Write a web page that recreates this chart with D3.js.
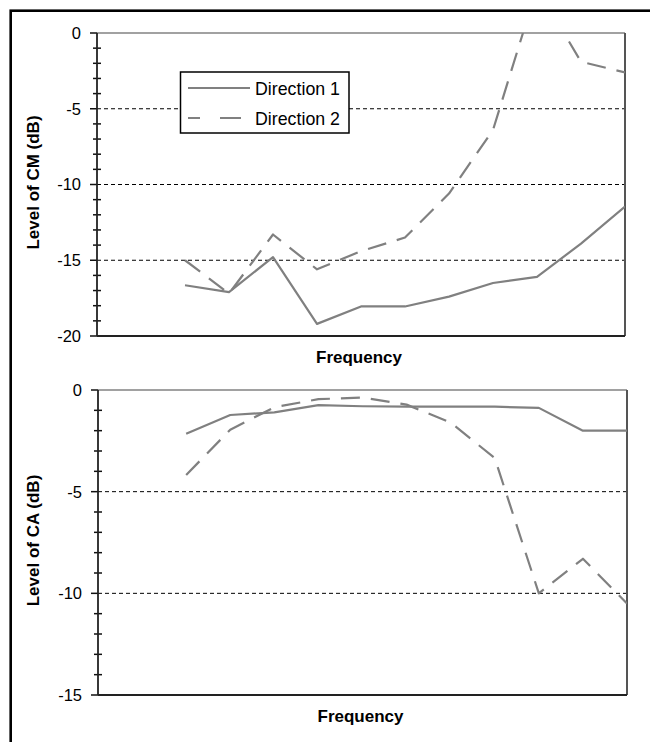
<!DOCTYPE html>
<html>
<head>
<meta charset="utf-8">
<script src="https://cdn.jsdelivr.net/npm/d3@7/dist/d3.min.js"></script>
<style>
  html, body { margin: 0; padding: 0; background: #fff; }
  svg { display: block; font-family: "Liberation Sans", Arial, sans-serif; }
</style>
</head>
<body>
<svg id="chart" width="650" height="742"></svg>
<script>
// ---- data ----
const categories = ["1","2","3","4","5","6","7","8","9","10","11","12","13"];
const seriesNames = ["Direction 1", "Direction 2"];
const cmDirection1 = [null, null, -16.65, -17.1, -14.8, -19.2, -18.05, -18.05, -17.4, -16.5, -16.1, -13.9, -11.45];
const cmDirection2 = [null, null, -15.0, -17.2, -13.3, -15.6, -14.4, -13.5, -10.6, -6.4, 3.0, -1.9, -2.6];
const caDirection1 = [null, null, -2.15, -1.23, -1.1, -0.74, -0.8, -0.82, -0.82, -0.82, -0.88, -2.0, -2.0];
const caDirection2 = [null, null, -4.18, -1.95, -0.85, -0.45, -0.37, -0.72, -1.6, -3.35, -10.0, -8.3, -10.5];
const cmTicks = [0, -5, -10, -15, -20];
const caTicks = [0, -5, -10, -15];
const cmGrid = [-5, -10, -15];
const caGrid = [-5, -10];

const svg = d3.select("#chart");

// outer frame
svg.append("rect").attr("x", 10.7).attr("y", 10.7).attr("width", 660).attr("height", 760)
  .attr("fill", "none").attr("stroke", "#000").attr("stroke-width", 2.6);

function panel(cfg) {
  const {left, right, top, bottom, yMin, ticks, grid, s1, s2, yTitle, id, legend} = cfg;
  const x = d3.scalePoint().domain(categories).range([left, right]);
  const y = d3.scaleLinear().domain([yMin, 0]).range([bottom, top]);
  const g = svg.append("g");

  // clip
  svg.append("clipPath").attr("id", id).append("rect")
    .attr("x", left).attr("y", top).attr("width", right - left).attr("height", bottom - top);

  // gridlines
  g.selectAll(".grid").data(grid).join("line")
    .attr("x1", left).attr("x2", right)
    .attr("y1", d => y(d)).attr("y2", d => y(d))
    .attr("stroke", "#000").attr("stroke-width", 1).attr("stroke-dasharray", "4,3");

  // plot border top & right
  g.append("line").attr("x1", left).attr("x2", right).attr("y1", top).attr("y2", top)
    .attr("stroke", "#444").attr("stroke-width", 1.2);
  g.append("line").attr("x1", right).attr("x2", right).attr("y1", top).attr("y2", bottom)
    .attr("stroke", "#555").attr("stroke-width", 2);

  // lines
  const line = d3.line().defined(d => d[1] != null)
    .x(d => x(d[0])).y(d => y(d[1]));
  const lg = g.append("g").attr("clip-path", `url(#${id})`);
  lg.append("path").datum(categories.map((c, i) => [c, s1[i]]))
    .attr("d", line).attr("fill", "none").attr("stroke", "#808080")
    .attr("stroke-width", 2.2).attr("stroke-linejoin", "round");
  lg.append("path").datum(categories.map((c, i) => [c, s2[i]]))
    .attr("d", line).attr("fill", "none").attr("stroke", "#808080")
    .attr("stroke-width", 2.2).attr("stroke-linejoin", "round").attr("stroke-dasharray", "19,11");

  // y axis ticks: minor crossing
  const minor = d3.range(0, yMin - 0.5, -1).filter(v => v % 5 !== 0);
  g.selectAll(".minor").data(minor).join("line")
    .attr("x1", left - 4).attr("x2", left + 4)
    .attr("y1", d => y(d)).attr("y2", d => y(d))
    .attr("stroke", "#111").attr("stroke-width", 1.5);
  g.selectAll(".major").data(ticks).join("line")
    .attr("x1", left - 7).attr("x2", left)
    .attr("y1", d => y(d)).attr("y2", d => y(d))
    .attr("stroke", "#111").attr("stroke-width", 1.5);
  g.selectAll(".tl").data(ticks).join("text")
    .attr("x", left - 16).attr("y", d => y(d)).attr("dy", "0.36em")
    .attr("text-anchor", "end").attr("font-size", 16.5).attr("fill", "#000")
    .text(d => d === 0 ? "0" : "-" + Math.abs(d));

  // axis lines
  g.append("line").attr("x1", left).attr("x2", left).attr("y1", top).attr("y2", bottom)
    .attr("stroke", "#222").attr("stroke-width", 1.8);
  g.append("line").attr("x1", left).attr("x2", right).attr("y1", bottom).attr("y2", bottom)
    .attr("stroke", "#222").attr("stroke-width", 1.8);

  // titles
  g.append("text").attr("transform", `translate(38.5,${(top + bottom) / 2 - 2}) rotate(-90)`)
    .attr("text-anchor", "middle").attr("font-size", 17).attr("font-weight", "bold")
    .text(yTitle);
  g.append("text").attr("x", (left + right) / 2 - 2).attr("y", bottom + 27)
    .attr("text-anchor", "middle").attr("font-size", 17).attr("font-weight", "bold")
    .text("Frequency");

  if (legend) {
    const lgd = g.append("g");
    lgd.append("rect").attr("x", 180.5).attr("y", 72).attr("width", 168.5).attr("height", 61)
      .attr("fill", "#fff").attr("stroke", "#000").attr("stroke-width", 1.5);
    const rows = [{name: seriesNames[0], dash: null, y: 88}, {name: seriesNames[1], dash: "12,20,21", y: 118}];
    rows.forEach(r => {
      lgd.append("line").attr("x1", 188).attr("x2", 250).attr("y1", r.y).attr("y2", r.y)
        .attr("stroke", "#808080").attr("stroke-width", 2.2)
        .attr("stroke-dasharray", r.dash);
      lgd.append("text").attr("x", 255).attr("y", r.y + 7).attr("font-size", 17.8)
        .attr("fill", "#000").text(r.name);
    });
  }
}

panel({left: 97, right: 625, top: 33, bottom: 336, yMin: -20, ticks: cmTicks, grid: cmGrid,
  s1: cmDirection1, s2: cmDirection2, yTitle: "Level of CM (dB)", id: "clipCM", legend: true});
panel({left: 98, right: 627, top: 390, bottom: 695, yMin: -15, ticks: caTicks, grid: caGrid,
  s1: caDirection1, s2: caDirection2, yTitle: "Level of CA (dB)", id: "clipCA", legend: false});
</script>
</body>
</html>
